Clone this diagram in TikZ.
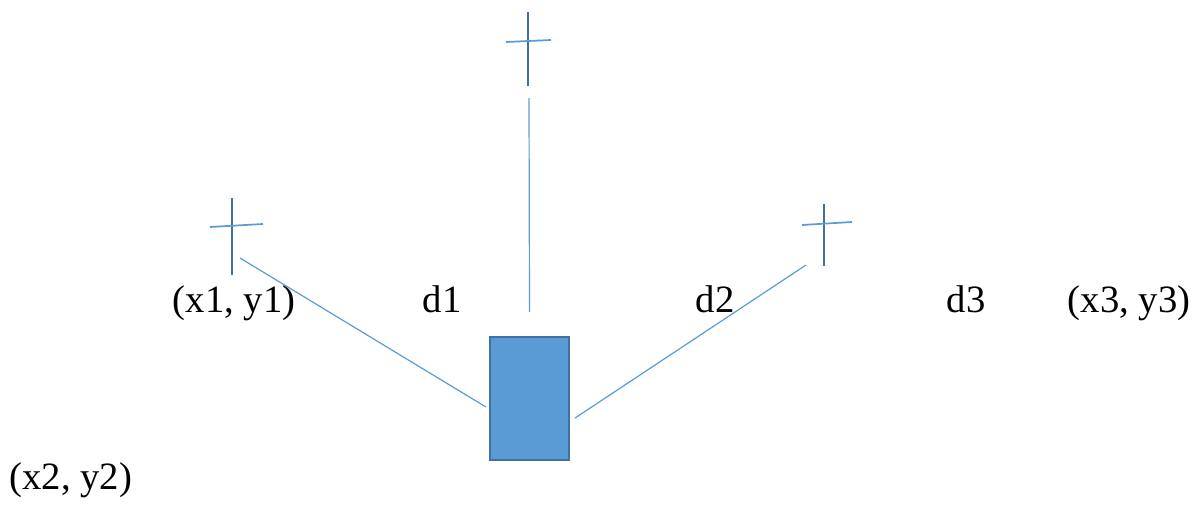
\documentclass[tikz,border=0pt]{standalone}
\usepackage{fontspec}
\setmainfont{Liberation Serif}
\begin{document}
\begin{tikzpicture}[x=0.75pt,y=-0.75pt,
  lbl/.style={anchor=base,inner sep=0pt,font=\fontsize{29}{34}\selectfont},
  mast/.style={draw=blue!40!black!60!cyan!70,line width=2.2pt},
  arm/.style={draw=armc,line width=1.3pt},
  link/.style={draw=linkc,line width=0.9pt}]
\definecolor{mastc}{HTML}{41719C}
\definecolor{armc}{HTML}{5B9BD5}
\definecolor{linkc}{HTML}{5B9BD5}
\tikzset{mast/.style={draw=mastc,line width=2.2pt}}
\useasboundingbox (0,0) rectangle (1195,504);
% crosses
\coordinate (c1t) at (232,198); \coordinate (c1b) at (232,275);
\coordinate (c1l) at (210,227); \coordinate (c1r) at (263,224);
\coordinate (c2t) at (528,12); \coordinate (c2b) at (528,86);
\coordinate (c2l) at (506,42); \coordinate (c2r) at (551,40);
\coordinate (c3t) at (824,204); \coordinate (c3b) at (824,266);
\coordinate (c3l) at (802,225); \coordinate (c3r) at (852,222);
\draw[mast] (c1t) -- (c1b); \draw[arm] (c1l) -- (c1r);
\draw[mast] (c2t) -- (c2b); \draw[arm] (c2l) -- (c2r);
\draw[mast] (c3t) -- (c3b); \draw[arm] (c3l) -- (c3r);
% box
\node[draw=mastc,fill=armc,line width=1.6pt,minimum width=79*0.75pt,minimum height=123*0.75pt,inner sep=0pt] (box) at (529.5,398.5) {};
% connectors
\coordinate (e1) at (240,258);
\coordinate (e2) at (529,98);
\coordinate (e3) at (806,265);
\draw[link] (e1) -- ([xshift=-3*0.75pt,yshift=-8.5*0.75pt]box.west);
\draw[link] (e2) -- ([yshift=24*0.75pt]box.north);
\draw[link] (e3) -- ([xshift=5*0.75pt,yshift=-19.5*0.75pt]box.east);
% labels
\node[lbl] (p1) at (234,312) {(x1, y1)};
\node[lbl] (d1) at (442,312) {d1};
\node[lbl] (d2) at (715,312) {d2};
\node[lbl] (d3) at (966,312) {d3};
\node[lbl] (p3) at (1129,312) {(x3, y3)};
\node[lbl] (p2) at (71,489) {(x2, y2)};
\end{tikzpicture}
\end{document}
